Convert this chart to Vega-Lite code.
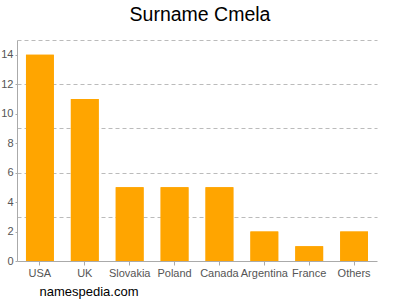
{
  "$schema": "https://vega.github.io/schema/vega-lite/v6.json",
  "autosize": "none",
  "width": 360,
  "height": 221,
  "padding": {"left": 17, "top": 40, "right": 23, "bottom": 39},
  "background": "white",
  "title": {
    "text": "Surname Cmela",
    "font": "Liberation Sans",
    "fontSize": 19.5,
    "fontWeight": "normal",
    "color": "#000000",
    "anchor": "middle",
    "baseline": "alphabetic",
    "offset": 0,
    "dx": 3
  },
  "data": {
    "values": [
      {"country": "USA", "count": 14},
      {"country": "UK", "count": 11},
      {"country": "Slovakia", "count": 5},
      {"country": "Poland", "count": 5},
      {"country": "Canada", "count": 5},
      {"country": "Argentina", "count": 2},
      {"country": "France", "count": 1},
      {"country": "Others", "count": 2}
    ]
  },
  "encoding": {
    "x": {
      "field": "country",
      "type": "nominal",
      "sort": null,
      "scale": {"paddingInner": 0.38, "paddingOuter": 0.2},
      "axis": {
        "title": "namespedia.com",
        "titleFont": "Liberation Sans",
        "titleFontSize": 13,
        "titleFontWeight": "normal",
        "titleColor": "#000000",
        "titleAnchor": "start",
        "titleAlign": "left",
        "titleBaseline": "alphabetic",
        "titleX": 22,
        "titleY": 34,
        "labelAngle": 0,
        "labelFont": "Liberation Sans",
        "labelFontSize": 11,
        "labelColor": "#555555",
        "labelPadding": 2,
        "domainColor": "#aaaaaa",
        "tickColor": "#aaaaaa",
        "tickSize": 4,
        "grid": false
      }
    }
  },
  "layer": [
    {
      "mark": {"type": "bar", "color": "#FFA500"},
      "encoding": {
        "y": {
          "field": "count",
          "type": "quantitative",
          "scale": {"domain": [0, 15], "nice": false},
          "axis": {
            "orient": "left",
            "title": null,
            "values": [3, 6, 9, 12, 15],
            "grid": true,
            "gridDash": [4, 3],
            "gridColor": "#bbbbbb",
            "labels": false,
            "ticks": false,
            "domain": false
          }
        }
      }
    },
    {
      "mark": {"type": "bar", "color": "#FFA500"},
      "encoding": {
        "y": {
          "field": "count",
          "type": "quantitative",
          "scale": {"domain": [0, 15], "nice": false},
          "axis": {
            "orient": "left",
            "title": null,
            "values": [0, 2, 4, 6, 8, 10, 12, 14],
            "grid": false,
            "labelFont": "Liberation Sans",
            "labelFontSize": 11,
            "labelColor": "#555555",
            "labelPadding": 2,
            "tickSize": 2,
            "tickColor": "#aaaaaa",
            "domainColor": "#aaaaaa"
          }
        }
      }
    }
  ],
  "resolve": {"axis": {"y": "independent"}},
  "config": {"view": {"stroke": null}}
}
